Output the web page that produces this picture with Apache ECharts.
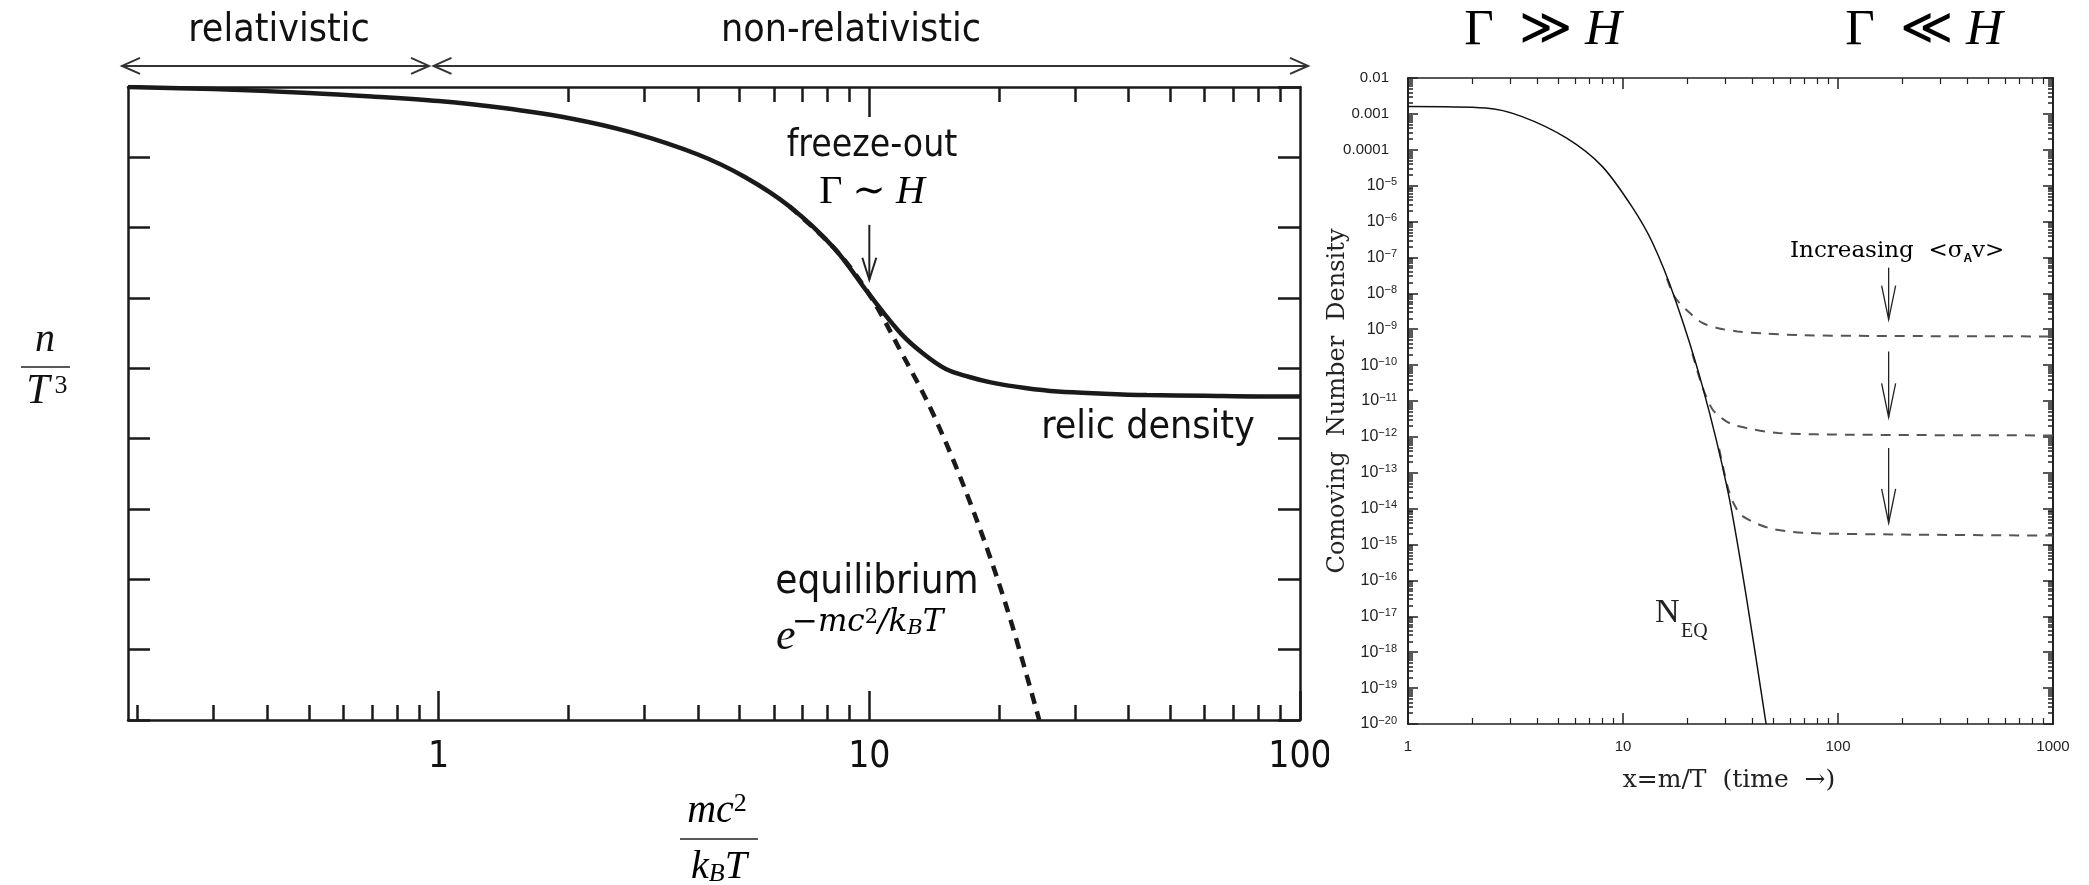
<!DOCTYPE html>
<html><head><meta charset="utf-8">
<script src="https://cdn.jsdelivr.net/npm/echarts@6/dist/echarts.min.js"></script>
<style>html,body{margin:0;padding:0;background:#fff}#main{width:2089px;height:885px}</style>
</head><body><div id="main"></div>
<script>
// ---------- LEFT PANEL (schematic): x = mc^2/(k_B T), y = log n/T^3 (arbitrary decades) ----------
const relicX = [0.19, 0.3, 0.5, 0.7, 1.0, 1.4, 2.0, 2.8, 4.0, 5.14, 6.53, 8.28, 10.0, 11.86, 13.4, 15.06, 17.0, 19.14, 23.0, 27.4, 35.0, 44.1, 60.0, 80.0, 100];
const relicY = [9.0, 8.97, 8.915, 8.865, 8.80, 8.705, 8.56, 8.355, 8.04, 7.72, 7.30, 6.71, 6.05, 5.49, 5.20, 4.99, 4.88, 4.80, 4.72, 4.67, 4.64, 4.62, 4.61, 4.60, 4.60];
const eqX = [6.53, 8.28, 10.0, 11.86, 14.0, 17.0, 20.6, 24.8];
const eqY = [7.30, 6.71, 6.05, 5.23, 4.38, 3.15, 1.70, 0.0];
const leftXMajor = [1, 10, 100];
const leftXLabels = [1, 10, 100];
const leftXMinorBottom = [0.2, 0.3, 0.4, 0.5, 0.6, 0.7, 0.8, 0.9, 2, 3, 4, 5, 6, 7, 8, 9, 20, 30, 40, 50, 60, 70, 80, 90];
const leftXMajorTop = [10];
const leftXMinorTop = [2, 3, 4, 5, 6, 7, 8, 9, 20, 30, 40, 50, 60, 70, 80, 90];
// arrows: [x1, y1, x2, y2, doubleHeaded]
const regimeArrows = [[0.184, 9.30, 0.95, 9.30, 1], [0.973, 9.30, 104.4, 9.30, 1]];
const freezeArrow = [[10, 7.04, 10, 6.26, 0]];

// ---------- RIGHT PANEL: comoving number density vs x = m/T ----------
const neqX = [1, 2.3, 3.37, 5.47, 7.98, 11.0, 13.7, 17.4, 23.4, 30.7, 37.1, 46.3];
const neqY = [1.6e-3, 1.45e-3, 8.5e-4, 2.1e-4, 3.5e-5, 2.6e-6, 2.6e-7, 7.4e-9, 2.6e-11, 3.2e-14, 5.0e-17, 1.0e-20];
const relic1X = [16, 17.4, 20, 23.4, 28, 34.1, 45, 68.7, 150, 1000];
const relic1Y = [2.6e-8, 7.9e-9, 3.2e-9, 1.5e-9, 1.05e-9, 8.7e-10, 7.6e-10, 6.8e-10, 6.5e-10, 6.3e-10];
const relic2X = [21, 23.4, 26.1, 30, 34.1, 52.6, 118, 1000];
const relic2Y = [2.1e-10, 2.5e-11, 5.8e-12, 2.8e-12, 2.0e-12, 1.29e-12, 1.15e-12, 1.1e-12];
const relic3X = [28, 30.7, 33, 36, 47.2, 68.7, 203, 1000];
const relic3Y = [4.7e-13, 4.0e-14, 1.26e-14, 6.2e-15, 2.95e-15, 2.14e-15, 1.9e-15, 1.78e-15];
const sigmaArrows = [[172, 5.2e-8, 172, 1.86e-9, 0], [172, 2.4e-10, 172, 3.5e-12, 0], [172, 4.9e-13, 172, 4.0e-15, 0]];
const rightXMajor = [1, 10, 100, 1000];
const rightXMinor = [2, 3, 4, 5, 6, 7, 8, 9, 20, 30, 40, 50, 60, 70, 80, 90, 200, 300, 400, 500, 600, 700, 800, 900];
const rightYExp = [-20, -19, -18, -17, -16, -15, -14, -13, -12, -11, -10, -9, -8, -7, -6, -5, -4, -3, -2];
const rightYMajor = rightYExp.map(e => Number('1e' + e));
const rightYMinor = [];
rightYExp.slice(0, -1).forEach(e => { for (let k = 2; k <= 9; k++) rightYMinor.push(Number(k + 'e' + e)); });

// ---------- styling ----------
const INK = '#1a1a1a';
const SANS = "'DejaVu Sans Condensed','DejaVu Sans',sans-serif";
const MATH = "'Liberation Serif','DejaVu Serif',serif";
const SERIF = "'DejaVu Serif',serif";
const LSANS = "'Liberation Sans',Arial,sans-serif";

function xAx(grid, pos, min, max, ticks, len, width, color, line, label) {
  return {
    type: 'log', logBase: 10, gridIndex: grid, position: pos, min: min, max: max,
    axisLine: { show: line, onZero: false, lineStyle: { color: color, width: width } },
    axisTick: { show: true, inside: true, length: len, customValues: ticks, lineStyle: { color: color, width: width } },
    axisLabel: label || { show: false },
    splitLine: { show: false }, minorTick: { show: false }, minorSplitLine: { show: false }
  };
}
function yLogAx(pos, ticks, len, line, label) {
  return {
    type: 'log', logBase: 10, gridIndex: 1, position: pos, min: 1e-20, max: 0.01,
    axisLine: { show: line, onZero: false, lineStyle: { color: '#222', width: 2 } },
    axisTick: { show: true, inside: true, length: len, customValues: ticks, lineStyle: { color: '#222', width: 1.5 } },
    axisLabel: label || { show: false },
    splitLine: { show: false }, minorTick: { show: false }, minorSplitLine: { show: false }
  };
}
function yLinAx(pos) {
  return {
    type: 'value', gridIndex: 0, position: pos, min: 0, max: 9, interval: 1,
    axisLine: { show: true, onZero: false, lineStyle: { color: INK, width: 2.5 } },
    axisTick: { show: true, inside: true, length: 22, lineStyle: { color: INK, width: 2.5 } },
    axisLabel: { show: false }, splitLine: { show: false }
  };
}

function arrowRenderer(color, width, headLen, headW) {
  return function (params, api) {
    const a = api.coord([api.value(0), api.value(1)]);
    const b = api.coord([api.value(2), api.value(3)]);
    const both = api.value(4) === 1;
    const st = { stroke: color, lineWidth: width, fill: null };
    const children = [{ type: 'line', shape: { x1: a[0], y1: a[1], x2: b[0], y2: b[1] }, style: st }];
    const heads = both ? [[b, a], [a, b]] : [[b, a]];
    heads.forEach(function (h) {
      const tip = h[0], from = h[1];
      const dx = tip[0] - from[0], dy = tip[1] - from[1], L = Math.hypot(dx, dy);
      const ux = dx / L, uy = dy / L;
      const bx = tip[0] - ux * headLen, by = tip[1] - uy * headLen;
      children.push({ type: 'polyline', shape: { points: [[bx - uy * headW, by + ux * headW], [tip[0], tip[1]], [bx + uy * headW, by - ux * headW]] }, style: st });
    });
    return { type: 'group', children: children };
  };
}

function txt(x, y, text, font, align, extra) {
  return { type: 'text', x: x, y: y, z: 50, style: Object.assign({ text: text, font: font, fill: '#111',
    align: align || 'center', verticalAlign: 'middle', textAlign: align || 'center', textVerticalAlign: 'middle' }, extra || {}) };
}
function rtxt(x, y, text, rich, align, extra) {
  return Object.assign({ type: 'text', x: x, y: y, z: 50, style: { text: text, rich: rich,
    align: align || 'center', verticalAlign: 'middle', textAlign: align || 'center', textVerticalAlign: 'middle' } }, extra || {});
}

const zip = (xs, ys) => xs.map((x, i) => [x, ys[i]]);
const gammaRich = (size) => ({
  g: { fontSize: size, fontFamily: MATH, color: '#111' },
  h: { fontSize: size, fontFamily: MATH, fontStyle: 'italic', color: '#111' }
});

const option = {
  animation: false,
  backgroundColor: '#fff',
  grid: [
    { left: 128, top: 87, width: 1172, height: 633, containLabel: false, outerBoundsMode: 'none' },
    { left: 1408, top: 78, width: 645, height: 646, containLabel: false, outerBoundsMode: 'none' }
  ],
  xAxis: [
    xAx(0, 'bottom', 0.19, 100, leftXMajor, 29, 2.5, INK, true,
      { show: true, customValues: leftXLabels, margin: 19, fontSize: 37, fontFamily: SANS, color: '#111', formatter: v => String(Math.round(v)) }),
    xAx(0, 'bottom', 0.19, 100, leftXMinorBottom, 15, 2.5, INK, false),
    xAx(0, 'top', 0.19, 100, leftXMajorTop, 30, 2.5, INK, true),
    xAx(0, 'top', 0.19, 100, leftXMinorTop, 15, 2.5, INK, false),
    xAx(1, 'bottom', 1, 1000, rightXMajor, 11, 1.5, '#222', true,
      { show: true, customValues: rightXMajor, margin: 15, fontSize: 15, fontFamily: LSANS, color: '#222', formatter: v => String(Math.round(v)) }),
    xAx(1, 'bottom', 1, 1000, rightXMinor, 6, 1.2, '#222', false),
    xAx(1, 'top', 1, 1000, rightXMajor, 11, 1.5, '#222', true),
    xAx(1, 'top', 1, 1000, rightXMinor, 6, 1.2, '#222', false)
  ],
  yAxis: [
    yLinAx('left'),
    yLinAx('right'),
    yLogAx('left', rightYMajor, 10, true, {
      show: true, customValues: rightYMajor, margin: 11, fontSize: 15, fontFamily: LSANS, color: '#222',
      formatter: function (v) {
        const e = Math.round(Math.log10(v));
        if (e >= -4) return '{d|' + v.toFixed(-e) + '}';
        return '{b|10}{s|\u2212' + (-e) + '}';
      },
      rich: {
        d: { fontSize: 15, fontFamily: LSANS, color: '#222', padding: [0, 8, 0, 0] },
        b: { fontSize: 16, fontFamily: LSANS, color: '#222', lineHeight: 18 },
        s: { fontSize: 11, fontFamily: LSANS, color: '#222', verticalAlign: 'top', lineHeight: 11 }
      }
    }),
    yLogAx('left', rightYMinor, 5, false),
    yLogAx('right', rightYMajor, 10, true),
    yLogAx('right', rightYMinor, 5, false)
  ],
  series: [
    { type: 'line', name: 'relic density', xAxisIndex: 0, yAxisIndex: 0, data: zip(relicX, relicY),
      symbol: 'none', smooth: 0.35, lineStyle: { color: INK, width: 4.5 }, z: 6 },
    { type: 'line', name: 'equilibrium', xAxisIndex: 0, yAxisIndex: 0, data: zip(eqX, eqY),
      symbol: 'none', smooth: 0.35, lineStyle: { color: INK, width: 4.5, type: [11, 8] }, z: 5 },
    { type: 'custom', name: 'regimes', xAxisIndex: 0, yAxisIndex: 0, data: regimeArrows, clip: false,
      renderItem: arrowRenderer('#333', 2, 18, 8), z: 7 },
    { type: 'custom', name: 'freeze', xAxisIndex: 0, yAxisIndex: 0, data: freezeArrow, clip: false,
      renderItem: arrowRenderer('#222', 2, 22, 7), z: 7 },
    { type: 'line', name: 'N_EQ', xAxisIndex: 4, yAxisIndex: 2, data: zip(neqX, neqY),
      symbol: 'none', smooth: 0.3, lineStyle: { color: '#111', width: 1.5 }, z: 6 },
    { type: 'line', name: 'relic1', xAxisIndex: 4, yAxisIndex: 2, data: zip(relic1X, relic1Y),
      symbol: 'none', smooth: 0.3, lineStyle: { color: '#555', width: 2, type: [10, 8] }, z: 5 },
    { type: 'line', name: 'relic2', xAxisIndex: 4, yAxisIndex: 2, data: zip(relic2X, relic2Y),
      symbol: 'none', smooth: 0.3, lineStyle: { color: '#555', width: 2, type: [10, 8] }, z: 5 },
    { type: 'line', name: 'relic3', xAxisIndex: 4, yAxisIndex: 2, data: zip(relic3X, relic3Y),
      symbol: 'none', smooth: 0.3, lineStyle: { color: '#555', width: 2, type: [10, 8] }, z: 5 },
    { type: 'custom', name: 'sigma', xAxisIndex: 4, yAxisIndex: 2, data: sigmaArrows, clip: false,
      renderItem: arrowRenderer('#222', 1.3, 34, 7), z: 7 }
  ],
  graphic: { elements: [
    // left panel annotations
    txt(279, 31, 'relativistic', '39px ' + SANS),
    txt(851, 31, 'non-relativistic', '39px ' + SANS),
    txt(872, 146, 'freeze-out', '37px ' + SANS),
    rtxt(872, 192, '{g|\u0393 \u223C }{h|H}', gammaRich(40)),
    txt(1148, 428, 'relic density', '39px ' + SANS),
    txt(877, 583, 'equilibrium', '40px ' + SANS),
    txt(776, 637, 'e', 'italic 44px ' + MATH, 'left'),
    rtxt(792, 623, '{s|\u2212mc}{p|2}{s|/k}{b|B}{s|T}', {
      s: { fontSize: 31, fontFamily: SERIF, fontStyle: 'italic', color: '#111', lineHeight: 32, verticalAlign: 'middle' },
      p: { fontSize: 21, fontFamily: SERIF, color: '#111', lineHeight: 20, verticalAlign: 'top' },
      b: { fontSize: 21, fontFamily: SERIF, fontStyle: 'italic', color: '#111', lineHeight: 20, verticalAlign: 'bottom' }
    }, 'left'),
    // y-axis label n / T^3
    txt(45, 340, 'n', 'italic 40px ' + MATH),
    { type: 'line', z: 50, shape: { x1: 21, y1: 367, x2: 70, y2: 367 }, style: { stroke: '#222', lineWidth: 1.6 } },
    txt(38, 392, 'T', 'italic 42px ' + MATH),
    txt(61, 386, '3', '26px ' + MATH),
    // x-axis label mc^2 / k_B T
    rtxt(717, 811, '{i|mc}{p|2}', {
      i: { fontSize: 40, fontFamily: MATH, fontStyle: 'italic', color: '#111', lineHeight: 40 },
      p: { fontSize: 26, fontFamily: MATH, color: '#111', lineHeight: 24, verticalAlign: 'top' } }),
    { type: 'line', z: 50, shape: { x1: 680, y1: 839, x2: 758, y2: 839 }, style: { stroke: '#222', lineWidth: 1.6 } },
    rtxt(719, 867, '{i|k}{b|B}{i|T}', {
      i: { fontSize: 40, fontFamily: MATH, fontStyle: 'italic', color: '#111', lineHeight: 40 },
      b: { fontSize: 26, fontFamily: MATH, fontStyle: 'italic', color: '#111', lineHeight: 24, verticalAlign: 'bottom' } }),
    // clip the "100" label where the right panel begins
    { type: 'rect', z: 100, shape: { x: 1329, y: 732, width: 24, height: 45 }, style: { fill: '#fff' } },
    // right panel annotations
    rtxt(1543, 31, '{g|\u0393  \u226B }{h|H}', gammaRich(51)),
    rtxt(1924, 31, '{g|\u0393  \u226A }{h|H}', gammaRich(51)),
    rtxt(1790, 251, '{t|Increasing  <\u03C3}{a|A}{t|v>}', {
      t: { fontSize: 23, fontFamily: SERIF, color: '#222', lineHeight: 28 },
      a: { fontSize: 12, fontFamily: LSANS, fontWeight: 'bold', color: '#222', lineHeight: 14, verticalAlign: 'bottom' } }, 'left'),
    txt(1655, 613, 'N', '34px ' + MATH, 'left', { fill: '#222' }),
    txt(1681, 632, 'EQ', '20px ' + MATH, 'left', { fill: '#222' }),
    { type: 'text', x: 1338, y: 401, rotation: Math.PI / 2, z: 50, style: { text: 'Comoving  Number  Density', font: '24px ' + SERIF, fill: '#222',
      align: 'center', verticalAlign: 'middle', textAlign: 'center', textVerticalAlign: 'middle' } },
    txt(1729, 780, 'x=m/T  (time  \u2192)', '25px ' + SERIF, 'center', { fill: '#222' })
  ] }
};

const chart = echarts.init(document.getElementById('main'), null, { renderer: 'canvas' });
chart.setOption(option);
</script></body></html>
